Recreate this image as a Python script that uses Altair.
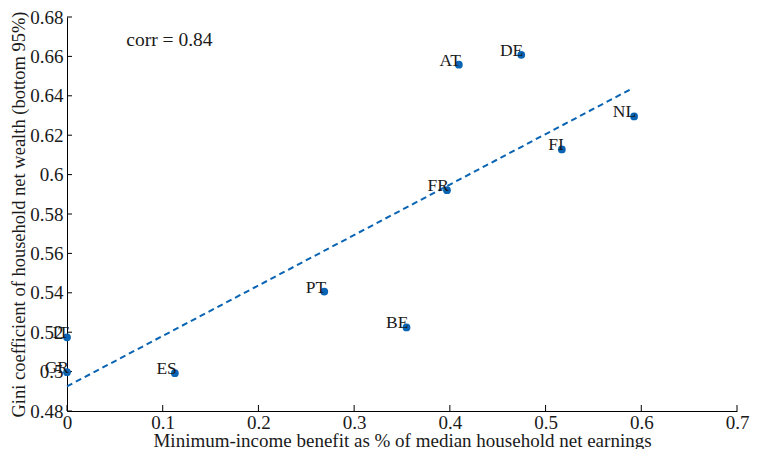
import altair as alt
import pandas as pd

countries = ["AT", "DE", "NL", "FI", "FR", "PT", "BE", "ES", "IT", "GR"]
benefit = [0.4094, 0.4746, 0.5925, 0.5170, 0.3970, 0.2688, 0.3547, 0.1127, 0.0, 0.0]
gini = [0.6558, 0.6608, 0.6295, 0.6128, 0.5921, 0.5406, 0.5224, 0.4992, 0.5174, 0.4997]

fit_x = [0.0, 0.59]
fit_y = [0.4925, 0.6436]

x_ticks = [0.0, 0.1, 0.2, 0.3, 0.4, 0.5, 0.6, 0.7]
y_ticks = [0.48, 0.50, 0.52, 0.54, 0.56, 0.58, 0.60, 0.62, 0.64, 0.66, 0.68]

corr_label = ["corr = 0.84"]
corr_pos_x = [0.062]
corr_pos_y = [0.6655]

W, H = 670, 394
FONT = "Liberation Serif"
BLUE = "#0a64b4"
INK = "#1a1a1a"

pts = pd.DataFrame({"country": countries, "x": benefit, "y": gini})
fit = pd.DataFrame({"x": fit_x, "y": fit_y})
xt = pd.DataFrame({"x": x_ticks})
yt = pd.DataFrame({"y": y_ticks})
corr = pd.DataFrame({"t": corr_label, "x": corr_pos_x, "y": corr_pos_y})

xscale = alt.Scale(domain=[0, 0.7], nice=False, zero=False)
yscale = alt.Scale(domain=[0.48, 0.68], nice=False, zero=False)

common = dict(
    ticks=False, grid=False, domainColor="black", domainWidth=1,
    labelFont=FONT, labelFontSize=19, labelColor=INK, labelFlush=False,
    labelOverlap=False,
    titleFont=FONT, titleFontWeight="normal", titleColor=INK,
)

xaxis = alt.Axis(
    values=x_ticks, format=".1~f", labelPadding=2,
    title="Minimum-income benefit as % of median household net earnings",
    titleFontSize=19,
    titleX=W / 2, titleY=29, titleBaseline="middle", titleAlign="center",
    **common,
)
yaxis = alt.Axis(
    values=y_ticks, format=".2~f", labelPadding=4,
    title="Gini coefficient of household net wealth (bottom 95%)",
    titleFontSize=18.5,
    titleX=-49, titleY=H / 2, titleAngle=-90, titleBaseline="middle", titleAlign="center",
    **common,
)

X = alt.X("x:Q", scale=xscale, axis=xaxis)
Y = alt.Y("y:Q", scale=yscale, axis=yaxis)

base_pts = alt.Chart(pts)

points = base_pts.mark_circle(size=60, color=BLUE, opacity=1).encode(x=X, y=Y)

labels = base_pts.mark_text(
    align="right", baseline="alphabetic", dx=2, dy=1,
    font=FONT, fontSize=17.5, color=INK,
).encode(x=X, y=Y, text="country:N")

line = alt.Chart(fit).mark_line(
    color=BLUE, strokeDash=[6, 4], strokeWidth=2
).encode(x=X, y=Y)

ytick_marks = alt.Chart(yt).mark_rule(color="black", strokeWidth=1).encode(
    y=Y, x=alt.value(0), x2=alt.value(5),
)
xtick_marks = alt.Chart(xt).mark_rule(color="black", strokeWidth=1).encode(
    x=X, y=alt.value(H), y2=alt.value(H - 6),
)

corr_text = alt.Chart(corr).mark_text(
    align="left", baseline="alphabetic", font=FONT, fontSize=19.5, color=INK
).encode(x=X, y=Y, text="t:N")

chart = alt.layer(
    line, ytick_marks, xtick_marks, points, labels, corr_text
).properties(
    width=W, height=H,
    autosize=alt.AutoSizeParams(type="none"),
    padding={"left": 59, "top": 9, "right": 13, "bottom": 38},
    background="white",
).configure(
    font=FONT
).configure_view(
    stroke=None
)

chart.save("out.html", embed_options={"renderer": "svg", "actions": False})
